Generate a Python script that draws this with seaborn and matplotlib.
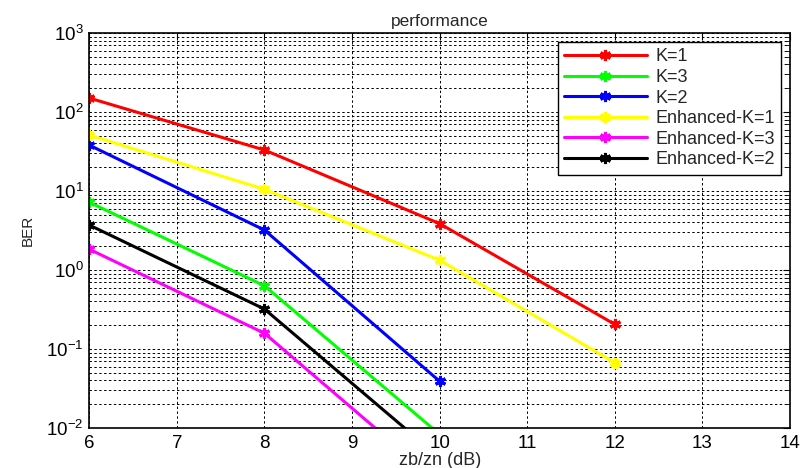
import numpy as np
import pandas as pd
import matplotlib
matplotlib.use("Agg")
import matplotlib.pyplot as plt
import seaborn as sns
from matplotlib.ticker import LogLocator, NullFormatter

snr = [6, 8, 10, 12]
k1 = [150, 33, 3.86, 0.205]
k3 = [7.2, 0.63, 0.0083]
k2 = [38, 3.2, 0.039]
enh_k1 = [51, 10.5, 1.33, 0.067]
enh_k3 = [1.83, 0.158, 0.002]
enh_k2 = [3.7, 0.32, 0.0042]

labels = ["K=1", "K=3", "K=2", "Enhanced-K=1", "Enhanced-K=3", "Enhanced-K=2"]
series = [k1, k3, k2, enh_k1, enh_k3, enh_k2]
colors = ["#ff0000", "#00ff00", "#0000ff", "#ffff00", "#ff00ff", "#000000"]

sns.set_style("white")
plt.rcParams['font.family'] = ['Liberation Sans', 'DejaVu Sans']
plt.rcParams['mathtext.fontset'] = 'custom'
plt.rcParams['mathtext.rm'] = 'Liberation Sans'
plt.rcParams['axes.unicode_minus'] = False

fig = plt.figure(figsize=(8.02, 4.68), dpi=100)
ax = fig.add_axes([0.1114, 0.0855, 0.8736, 0.844])

for lab, vals, col in zip(labels, series, colors):
    df = pd.DataFrame({"x": snr[:len(vals)], "y": vals})
    sns.lineplot(data=df, x="x", y="y", color=col, marker=(6, 2, 0), markersize=8,
                 markeredgewidth=2.2, markeredgecolor=col, linewidth=2.2,
                 label=lab, ax=ax)

ax.set_yscale("log")
ax.set_xlim(6, 14)
ax.set_ylim(1e-2, 1e3)
ax.set_xticks(range(6, 15))
ax.yaxis.set_major_locator(LogLocator(base=10, numticks=10))
ax.yaxis.set_minor_locator(LogLocator(base=10, subs=np.arange(2, 10), numticks=20))
ax.yaxis.set_minor_formatter(NullFormatter())

ax.grid(True, which="major", axis="both", color="black", linestyle=(0, (2.5, 2.5)), linewidth=0.7)
ax.grid(True, which="minor", axis="y", color="black", linestyle=(0, (2.5, 2.5)), linewidth=0.7)
ax.set_axisbelow(True)

for s in ax.spines.values():
    s.set_color("black")
    s.set_linewidth(1.2)

ax.tick_params(axis="both", which="both", direction="in", top=True, right=True,
               labelsize=13.5, colors="black")
ax.tick_params(axis="y", which="major", pad=4)
ax.tick_params(axis="x", which="major", pad=5)
ax.tick_params(which="major", length=5)
ax.tick_params(which="minor", length=3)

ax.set_title("performance", fontsize=12.5, pad=5)
ax.set_xlabel("zb/zn (dB)", fontsize=13, labelpad=0)
ax.set_ylabel("BER", fontsize=11, labelpad=8)

leg = ax.legend(loc="upper right", fontsize=13, frameon=True, fancybox=False,
                framealpha=1, edgecolor="black", handlelength=4.6, handletextpad=0.45,
                borderaxespad=0.5, labelspacing=0.2, borderpad=0.35)
leg.get_frame().set_linewidth(1.0)

fig.savefig("out.png", dpi=100)
